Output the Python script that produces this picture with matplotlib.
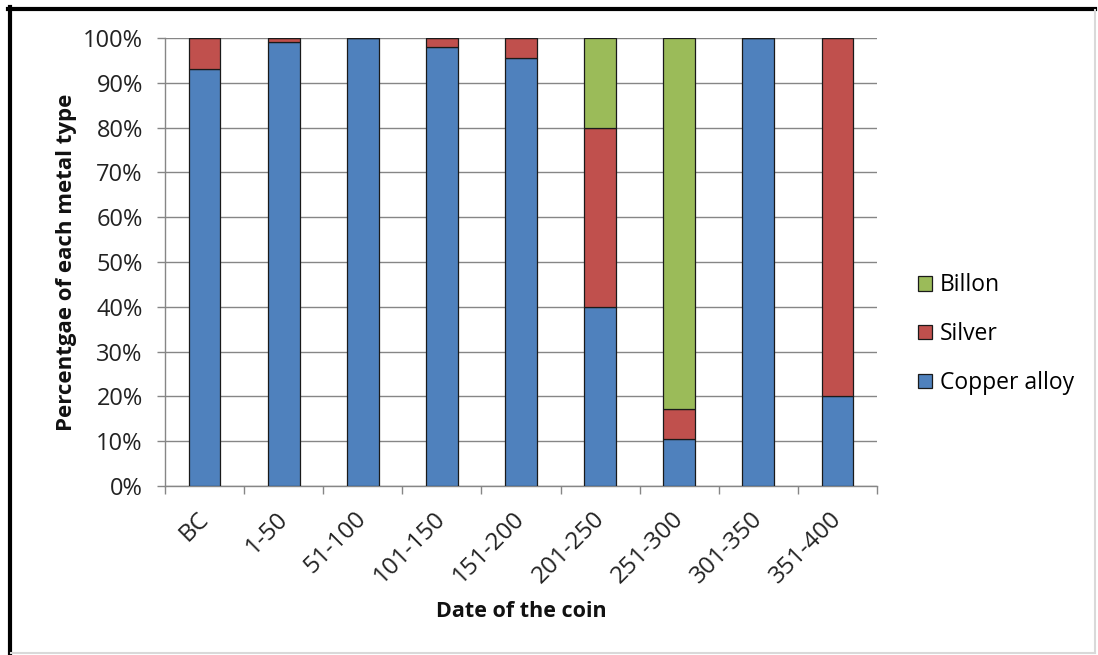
import matplotlib
matplotlib.use("Agg")
import matplotlib.pyplot as plt
import matplotlib.transforms as mtransforms
from matplotlib.patches import Patch
from matplotlib.lines import Line2D
import numpy as np

plt.rcParams['font.family'] = ['Open Sans', 'DejaVu Sans']

periods = ["BC", "1-50", "51-100", "101-150", "151-200",
           "201-250", "251-300", "301-350", "351-400"]
copper_alloy = [93.0, 99.2, 100.0, 98.0, 95.5, 40.0, 10.5, 100.0, 20.0]
silver = [7.0, 0.8, 0.0, 2.0, 4.5, 40.0, 6.8, 0.0, 80.0]
billon = [0.0, 0.0, 0.0, 0.0, 0.0, 20.0, 82.7, 0.0, 0.0]

c_copper = "#4F81BD"
c_silver = "#C0504D"
c_billon = "#9BBB59"
edge = "#1a1a1a"
axis_grey = "#868686"

fig = plt.figure(figsize=(10.98, 6.55), dpi=100)
ax = fig.add_axes([0.1503, 0.258, 0.6484, 0.684])

x = np.arange(len(periods))
w = 0.4
ax.bar(x, copper_alloy, w, color=c_copper, edgecolor=edge, linewidth=0.9, zorder=3)
ax.bar(x, silver, w, bottom=copper_alloy, color=c_silver, edgecolor=edge,
       linewidth=0.9, zorder=3)
base2 = np.array(copper_alloy) + np.array(silver)
ax.bar(x, billon, w, bottom=base2, color=c_billon, edgecolor=edge,
       linewidth=0.9, zorder=3)

ax.set_xlim(-0.5, len(periods) - 0.5)
ax.set_ylim(0, 100)
ax.set_yticks(np.arange(0, 101, 10))
ax.set_yticklabels([f"{v}%" for v in range(0, 101, 10)])
ax.yaxis.grid(True, color=axis_grey, linewidth=1.0, zorder=0)
ax.set_axisbelow(True)

for s in ("top", "right"):
    ax.spines[s].set_visible(False)
for s in ("left", "bottom"):
    ax.spines[s].set_color(axis_grey)
    ax.spines[s].set_linewidth(1.0)

ax.tick_params(axis="y", direction="out", length=6, width=1, color=axis_grey,
               labelsize=17, labelcolor="#222222", pad=10)
ax.set_xticks(x)
ax.set_xticklabels(periods, rotation=45, ha="right", va="top",
                   rotation_mode="anchor", fontsize=17.5, color="#222222")
ax.tick_params(axis="x", which="major", length=0, pad=10)
shift = mtransforms.ScaledTranslation(-0.08, -0.07, fig.dpi_scale_trans)
for lbl in ax.get_xticklabels():
    lbl.set_transform(lbl.get_transform() + shift)
ax.set_xticks(np.arange(-0.5, len(periods), 1.0), minor=True)
ax.tick_params(axis="x", which="minor", direction="out", length=6, width=1,
               color=axis_grey)

ax.set_xlabel("Date of the coin", fontsize=15.5, fontweight="bold",
              color="#111111", labelpad=9)
ax.set_ylabel("Percentgae of each metal type", fontsize=16,
              fontweight="bold", color="#111111", labelpad=4)

handles = [Patch(facecolor=c_billon, edgecolor=edge, linewidth=0.9),
           Patch(facecolor=c_silver, edgecolor=edge, linewidth=0.9),
           Patch(facecolor=c_copper, edgecolor=edge, linewidth=0.9)]
fig.legend(handles, ["Billon", "Silver", "Copper alloy"],
           loc="upper left", bbox_to_anchor=(0.8255, 0.6),
           frameon=False, fontsize=16.5, handlelength=0.6, handleheight=0.6,
           handletextpad=0.35, labelspacing=1.08, borderpad=0.0)

# frame around the chart
fig.add_artist(Line2D([9.5 / 1098, 9.5 / 1098], [1 - 7 / 655, 1 - 653 / 655],
                      transform=fig.transFigure, color="black", linewidth=3))
fig.add_artist(Line2D([8 / 1098, 1095 / 1098], [1 - 8.5 / 655, 1 - 8.5 / 655],
                      transform=fig.transFigure, color="black", linewidth=3))
fig.add_artist(Line2D([1094.5 / 1098, 1094.5 / 1098], [1 - 10 / 655, 1 - 653 / 655],
                      transform=fig.transFigure, color="#d9d9d9", linewidth=1.5))
fig.add_artist(Line2D([11 / 1098, 1095 / 1098], [1 - 652.5 / 655, 1 - 652.5 / 655],
                      transform=fig.transFigure, color="#d9d9d9", linewidth=1.5))

fig.savefig("out.png", dpi=100)
